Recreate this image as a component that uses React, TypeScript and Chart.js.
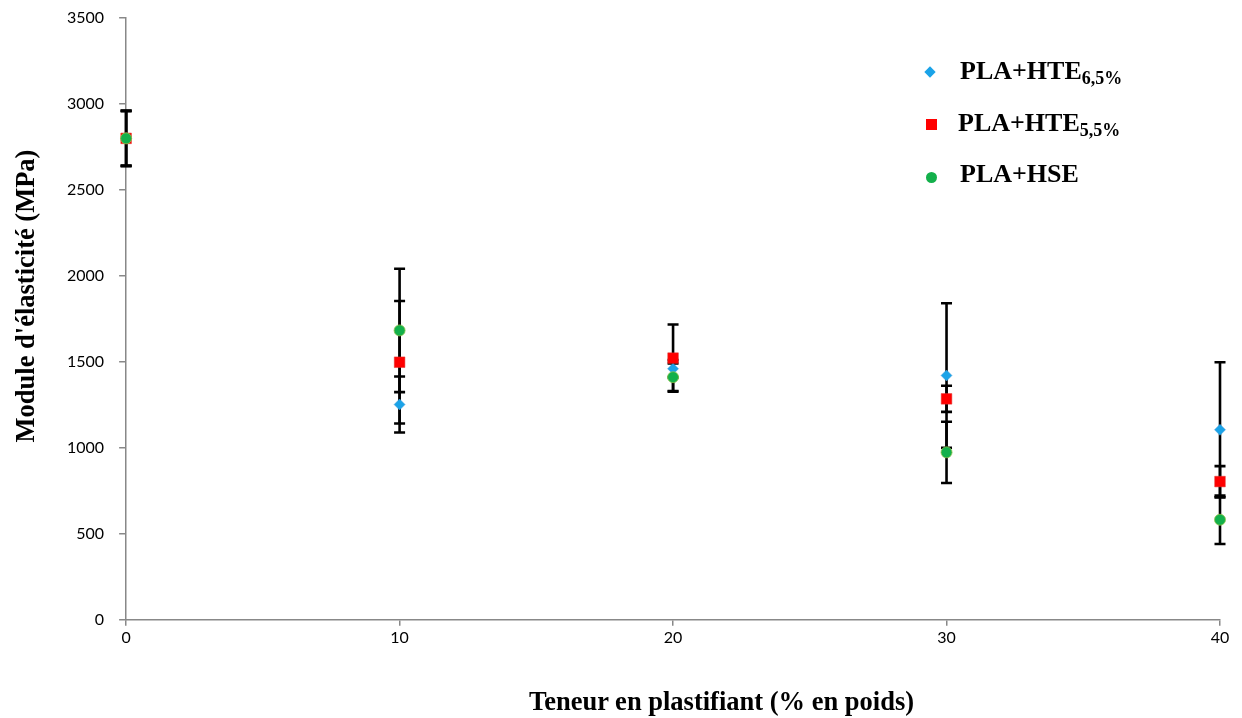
import React, { useEffect, useRef } from "react";
import { Chart, registerables } from "chart.js";

Chart.register(...registerables);

const xValues = [0, 10, 20, 30, 40];
const hte65 = [2800, 1252, 1460, 1421, 1105];
const hte65Err = [160, 163, 50, 420, 393];
const hte55 = [2800, 1498, 1522, 1285, 804];
const hte55Err = [160, 356, 195, 76, 90];
const hse = [2800, 1683, 1411, 974, 582];
const hseErr = [160, 359, 80, 178, 141];
const yTicks = [0, 500, 1000, 1500, 2000, 2500, 3000, 3500];
const xTicks = [0, 10, 20, 30, 40];
const xTitle = "Teneur en plastifiant (% en poids)";
const yTitle = "Module d'élasticité (MPa)";

const errorBarPlugin = {
  id: "errorBars",
  beforeDatasetsDraw(chart: any) {
    const ctx = chart.ctx;
    const xs = chart.scales.x;
    const ys = chart.scales.y;
    ctx.save();
    ctx.strokeStyle = "#000";
    ctx.lineWidth = 2.6;
    chart.data.datasets.forEach((ds: any) => {
      const errs: number[] = ds.errors;
      ds.data.forEach((p: any, i: number) => {
        const px = xs.getPixelForValue(p.x);
        const top = ys.getPixelForValue(p.y + errs[i]);
        const bot = ys.getPixelForValue(p.y - errs[i]);
        ctx.beginPath();
        ctx.moveTo(px, top);
        ctx.lineTo(px, bot);
        ctx.moveTo(px - 5.5, top);
        ctx.lineTo(px + 5.5, top);
        ctx.moveTo(px - 5.5, bot);
        ctx.lineTo(px + 5.5, bot);
        ctx.stroke();
      });
    });
    ctx.restore();
  },
};

export default function App() {
  const ref = useRef<HTMLCanvasElement | null>(null);
  useEffect(() => {
    if (!ref.current) return;
    const mk = (vals: number[]) => vals.map((v, i) => ({ x: xValues[i], y: v }));
    const chart = new Chart(ref.current, {
      type: "scatter",
      data: {
        datasets: [
          {
            label: "PLA+HTE6,5%",
            data: mk(hte65),
            errors: hte65Err,
            pointStyle: "rectRot",
            pointRadius: 5.5,
            backgroundColor: "#1aa3e8",
            borderColor: "#4f9fd8",
            borderWidth: 0.5,
            order: 2,
            clip: false,
          } as any,
          {
            label: "PLA+HTE5,5%",
            data: mk(hte55),
            errors: hte55Err,
            pointStyle: "rect",
            pointRadius: 7.5,
            backgroundColor: "#ff0000",
            borderColor: "#e0302a",
            borderWidth: 0.5,
            order: 1,
            clip: false,
          } as any,
          {
            label: "PLA+HSE",
            data: mk(hse),
            errors: hseErr,
            pointStyle: "circle",
            pointRadius: 5.5,
            backgroundColor: "#13b04b",
            borderColor: "#8bc34a",
            borderWidth: 0.8,
            order: 0,
            clip: false,
          } as any,
        ],
      },
      options: {
        animation: false,
        responsive: false,
        layout: { padding: { left: 52, right: 22, top: 18, bottom: 69 } },
        plugins: { legend: { display: false }, tooltip: { enabled: false } },
        scales: {
          x: {
            type: "linear",
            min: 0,
            max: 40,
            afterBuildTicks: (axis: any) => {
              axis.ticks = xTicks.map((v) => ({ value: v }));
            },
            afterFit: (axis: any) => {
              axis.paddingLeft = 0;
              axis.paddingRight = 0;
            },
            grid: { drawOnChartArea: false, color: "#888", tickLength: 6, lineWidth: 1.5 },
            border: { color: "#888", width: 1.5 },
            ticks: {
              color: "#000",
              font: { family: "Lato", size: 16 },
              padding: 2,
              callback: (v: any) => String(v),
            },
          },
          y: {
            type: "linear",
            min: 0,
            max: 3500,
            afterBuildTicks: (axis: any) => {
              axis.ticks = yTicks.map((v) => ({ value: v }));
            },
            afterFit: (axis: any) => {
              axis.paddingTop = 0;
              axis.paddingBottom = 0;
            },
            grid: { drawOnChartArea: false, color: "#888", tickLength: 7, lineWidth: 1.5 },
            border: { color: "#888", width: 1.5 },
            ticks: {
              color: "#000",
              font: { family: "Lato", size: 16 },
              padding: 15,
              callback: (v: any) => String(v),
            },
          },
        },
      },
      plugins: [errorBarPlugin],
    } as any);
    return () => chart.destroy();
  }, []);

  const labelStyle: React.CSSProperties = {
    position: "absolute",
    fontFamily: "Liberation Serif",
    fontWeight: "bold",
    fontSize: 26,
    lineHeight: "25px",
    color: "#000",
    whiteSpace: "nowrap",
  };
  const subStyle: React.CSSProperties = { fontSize: 18, verticalAlign: "-5px" };
  const titleStyle: React.CSSProperties = {
    position: "absolute",
    fontFamily: "Liberation Serif",
    fontWeight: "bold",
    fontSize: 26.5,
    lineHeight: "32px",
    height: 32,
    width: 600,
    textAlign: "center",
    color: "#000",
    whiteSpace: "nowrap",
  };

  return (
    <div style={{ position: "fixed", left: 0, top: 0, width: 1242, height: 718, background: "#fff", overflow: "hidden" }}>
      <canvas ref={ref} width={1242} height={718} style={{ display: "block" }} />
      <div style={{ ...titleStyle, left: 421.5, top: 684.5 }}>{xTitle}</div>
      <div style={{ ...titleStyle, left: 25 - 300, top: 296 - 16, transform: "rotate(-90deg)" }}>{yTitle}</div>
      <div style={{ position: "absolute", left: 926, top: 68, width: 8, height: 8, background: "#1aa3e8", transform: "rotate(45deg)" }} />
      <div style={{ ...labelStyle, left: 960, top: 58 }}>
        PLA+HTE<span style={subStyle}>6,5%</span>
      </div>
      <div style={{ position: "absolute", left: 926, top: 119, width: 11, height: 11, background: "#ff0000" }} />
      <div style={{ ...labelStyle, left: 958, top: 110 }}>
        PLA+HTE<span style={subStyle}>5,5%</span>
      </div>
      <div style={{ position: "absolute", left: 926, top: 172, width: 11, height: 11, borderRadius: "50%", background: "#13b04b" }} />
      <div style={{ ...labelStyle, left: 960, top: 161 }}>PLA+HSE</div>
    </div>
  );
}
